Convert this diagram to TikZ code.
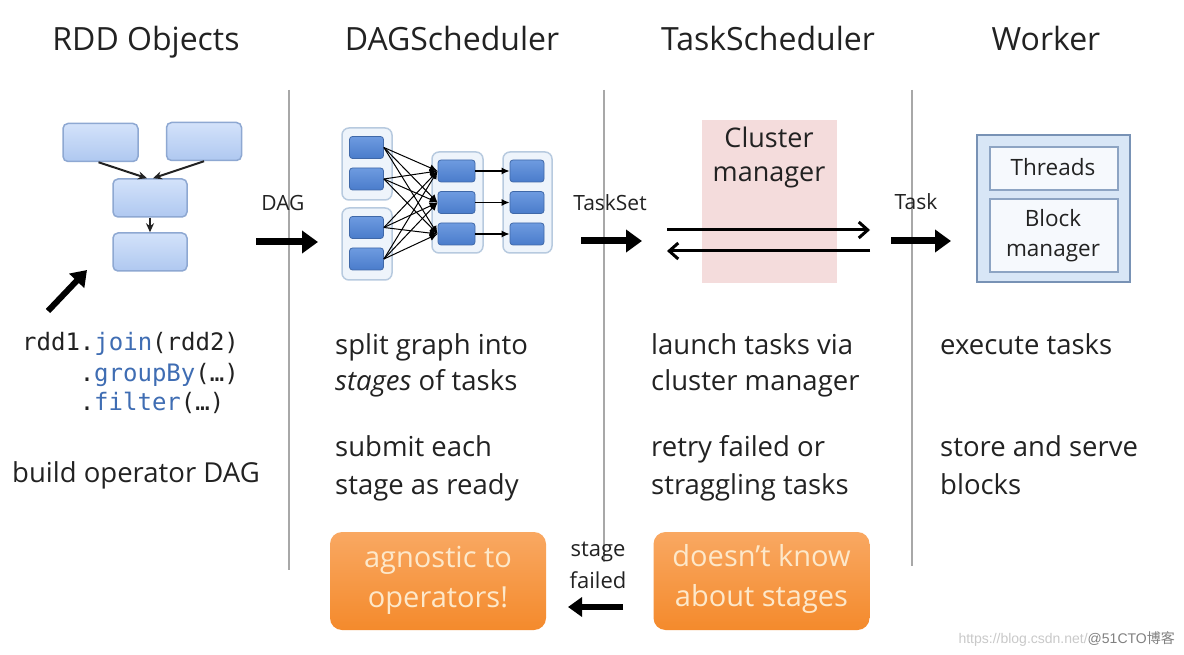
\documentclass[tikz,border=0pt]{standalone}
\usepackage{fontspec}
\setmainfont{Open Sans}
\setmonofont{DejaVu Sans Mono}
\newfontfamily\cjkfont{Noto Sans CJK SC}
\newfontfamily\wmfont{Liberation Sans}
\usetikzlibrary{arrows.meta,shadings}
\definecolor{txt}{HTML}{222222}
\definecolor{codeblue}{HTML}{3F6DB3}
\definecolor{sepgray}{HTML}{A8A8A8}
\definecolor{rddtop}{HTML}{D3E2FA}
\definecolor{rddbot}{HTML}{AFC8F0}
\definecolor{rddline}{HTML}{8EA8D2}
\definecolor{grpfill}{HTML}{EEF4FB}
\definecolor{grpline}{HTML}{B7CADF}
\definecolor{innertop}{HTML}{6E9BE0}
\definecolor{innerbot}{HTML}{4A7CCB}
\definecolor{innerline}{HTML}{3F68A8}
\definecolor{pink}{HTML}{F4DCDC}
\definecolor{wfill}{HTML}{D8E6F6}
\definecolor{wline}{HTML}{7892B5}
\definecolor{wifill}{HTML}{F6F9FD}
\definecolor{wiline}{HTML}{8DA4C3}
\definecolor{orangetop}{HTML}{F9A862}
\definecolor{orangebot}{HTML}{F48A2C}
\definecolor{orangetxt}{HTML}{FDE8CA}
\definecolor{wmgray}{HTML}{C9C9C9}
\tikzset{
  title/.style={anchor=base,text=txt,font=\fontsize{32}{36}\selectfont,inner sep=0pt},
  body/.style={anchor=base west,text=txt,font=\fontsize{27.5}{32}\selectfont,inner sep=0pt},
  lbl/.style={anchor=base,text=txt,font=\fontsize{21}{24}\selectfont,inner sep=0pt},
  code/.style={anchor=base west,text=txt,font=\fontsize{24}{28}\selectfont\ttfamily,inner sep=0pt},
  rddbox/.style={rectangle,rounded corners=5pt,draw=rddline,line width=1.5pt,top color=rddtop,bottom color=rddbot,minimum width=75pt,minimum height=38pt,inner sep=0pt},
  grpbox/.style={rectangle,rounded corners=7pt,draw=grpline,line width=1.5pt,fill=grpfill,inner sep=0pt},
  innerbox/.style={rectangle,rounded corners=3pt,draw=innerline,line width=0.8pt,top color=innertop,bottom color=innerbot,minimum width=34pt,minimum height=22pt,inner sep=0pt},
  sep/.style={draw=sepgray,line width=1.6pt},
  bigarrow/.style={line width=7pt,-{Triangle[length=16pt,width=22pt]}},
  thinarrow/.style={line width=2pt,draw=txt,-{Stealth[length=9pt,width=8pt]}},
  crossarrow/.style={line width=1pt,-{Latex[length=8pt,width=7pt]}},
  harrow/.style={line width=1.3pt,-{Latex[length=8pt,width=7pt]}},
  cmarrow/.style={line width=3pt,-{Straight Barb[length=9pt,width=16pt,line width=3pt]}},
  orangebox/.style={rectangle,rounded corners=12pt,top color=orangetop,bottom color=orangebot,minimum width=216pt,minimum height=98pt,inner sep=0pt},
  otxt/.style={anchor=base,text=orangetxt,font=\fontsize{29}{34}\selectfont,inner sep=0pt},
  wbox/.style={rectangle,draw=wline,line width=2.5pt,fill=wfill,inner sep=0pt},
  wibox/.style={rectangle,draw=wiline,line width=1.5pt,fill=wifill,inner sep=0pt},
  wtxt/.style={anchor=base,text=txt,font=\fontsize{22.5}{26}\selectfont,inner sep=0pt},
}
\begin{document}
\begin{tikzpicture}[x=1pt,y=-1pt]
\useasboundingbox (0,0) rectangle (1184,655);
\fill[white] (0,0) rectangle (1184,655);

% titles
\node[title] (t1) at (146,51) {RDD Objects};
\node[title] (t2) at (452,51) {DAGScheduler};
\node[title] (t3) at (768,51) {TaskScheduler};
\node[title] (t4) at (1046,51) {Worker};

% separators
\coordinate (s1a) at (289,90); \coordinate (s1b) at (289,570);
\coordinate (s2a) at (604,90); \coordinate (s2b) at (604,562);
\coordinate (s3a) at (912,90); \coordinate (s3b) at (912,566);
\draw[sep] (s1a) -- (s1b);
\draw[sep] (s2a) -- (s2b);
\draw[sep] (s3a) -- (s3b);

% RDD objects
\node[rddbox] (r1) at (100.5,142.5) {};
\node[rddbox] (r2) at (204,141.5) {};
\node[rddbox,minimum width=74pt] (r3) at (150,198) {};
\node[rddbox,minimum width=74pt] (r4) at (150,252) {};
\draw[thinarrow] ([xshift=-2pt]r1.south) -- ([xshift=-3pt]r3.north);
\draw[thinarrow] ([xshift=0pt]r2.south) -- ([xshift=3pt]r3.north);
\draw[thinarrow] (r3.south) -- (r4.north);
\coordinate (pa) at (48,311);
\coordinate (pb) at (87,270);
\draw[bigarrow,line width=6pt,-{Triangle[length=15pt,width=20pt]}] (pa) -- (pb);

\node[code] (c1) at (22,350) {rdd1.\textcolor{codeblue}{join}(rdd2)};
\node[code] (c2) at (79.6,381) {.\textcolor{codeblue}{groupBy}(…)};
\node[code] (c3) at (79.6,410) {.\textcolor{codeblue}{filter}(…)};
\node[body] (b1) at (12,482) {build operator DAG};

% DAG arrow
\node[lbl] (ldag) at (283,211) {DAG};
\coordinate (da) at (256,242); \coordinate (db) at (318,242);
\draw[bigarrow] (da) -- (db);

% DAG scheduler stages
\node[grpbox,minimum width=50pt,minimum height=72pt] (g1) at (367,164) {};
\node[grpbox,minimum width=50pt,minimum height=72pt] (g2) at (367,244) {};
\node[grpbox,minimum width=51pt,minimum height=101pt] (g3) at (457.5,202.5) {};
\node[grpbox,minimum width=49pt,minimum height=101pt] (g4) at (527.5,202.5) {};
\node[innerbox] (l1) at (366.5,147.5) {};
\node[innerbox] (l2) at (366.5,179) {};
\node[innerbox] (l3) at (366.5,227.5) {};
\node[innerbox] (l4) at (366.5,259) {};
\node[innerbox,minimum width=37pt] (m1) at (456.5,171) {};
\node[innerbox,minimum width=37pt] (m2) at (456.5,202.5) {};
\node[innerbox,minimum width=37pt] (m3) at (456.5,234) {};
\node[innerbox] (n1) at (527,171) {};
\node[innerbox] (n2) at (527,202.5) {};
\node[innerbox] (n3) at (527,234) {};
\foreach \a in {l1,l2,l3,l4}{
  \foreach \b in {m1,m2,m3}{
    \draw[crossarrow] (\a.east) -- (\b.west);
  }
}
\draw[harrow] (m1.east) -- (n1.west);
\draw[harrow] (m2.east) -- (n2.west);
\draw[harrow] (m3.east) -- (n3.west);

% TaskSet arrow
\node[lbl] (lts) at (610,211) {TaskSet};
\coordinate (ta) at (581,241); \coordinate (tb) at (642,241);
\draw[bigarrow] (ta) -- (tb);

% Cluster manager
\node[rectangle,fill=pink,minimum width=135pt,minimum height=163pt,inner sep=0pt] (cm) at (769.5,201.5) {};
\node[anchor=base,text=txt,font=\fontsize{27}{30}\selectfont,inner sep=0pt] (cm1) at (769,148) {Cluster};
\node[anchor=base,text=txt,font=\fontsize{27}{30}\selectfont,inner sep=0pt] (cm2) at (769,182) {manager};
\coordinate (ca) at (667,230); \coordinate (cb) at (870,230);
\coordinate (cc) at (870,251); \coordinate (cd) at (667,251);
\draw[cmarrow] (ca) -- (cb);
\draw[cmarrow] (cc) -- (cd);

% Task arrow
\node[lbl] (ltk) at (916,210) {Task};
\coordinate (ka) at (891,241); \coordinate (kb) at (951,241);
\draw[bigarrow] (ka) -- (kb);

% Worker
\node[wbox,minimum width=153pt,minimum height=147pt] (w) at (1053.5,208.5) {};
\node[wibox,minimum width=128pt,minimum height=43pt] (wt) at (1054,168.5) {};
\node[wibox,minimum width=128pt,minimum height=73pt] (wb) at (1054,235.5) {};
\node[wtxt] (wt1) at (1053,176) {Threads};
\node[wtxt] (wb1) at (1053,227) {Block};
\node[wtxt] (wb2) at (1053,257) {manager};

% body texts
\node[body] (d1) at (335,354) {split graph into};
\node[body] (d2) at (335,390) {\itshape stages\upshape{} of tasks};
\node[body] (d3) at (335,456) {submit each};
\node[body] (d4) at (335,494) {stage as ready};
\node[body] (e1) at (651,354) {launch tasks via};
\node[body] (e2) at (651,390) {cluster manager};
\node[body] (e3) at (651,456) {retry failed or};
\node[body] (e4) at (651,494) {straggling tasks};
\node[body] (f1) at (940,354) {execute tasks};
\node[body] (f2) at (940,456) {store and serve};
\node[body] (f3) at (940,494) {blocks};

% orange boxes
\node[orangebox] (o1) at (438,581) {};
\node[orangebox] (o2) at (761.5,581) {};
\node[otxt] (o1a) at (438,567) {agnostic to};
\node[otxt] (o1b) at (438,607) {operators!};
\node[otxt] (o2a) at (761.5,566) {doesn’t know};
\node[otxt] (o2b) at (761.5,606) {about stages};

% stage failed
\node[lbl,font=\fontsize{22}{24}\selectfont] (sf1) at (598,556) {stage};
\node[lbl,font=\fontsize{22}{24}\selectfont] (sf2) at (598,588) {failed};
\coordinate (fa) at (623,607); \coordinate (fb) at (568,607);
\draw[bigarrow,line width=6pt,-{Triangle[length=14pt,width=19pt]}] (fa) -- (fb);

% watermark
\node[anchor=base east,inner sep=0pt,font=\wmfont\fontsize{14}{16}\selectfont,text=wmgray] (wm) at (1175,643) {https://blog.csdn.net/\textcolor{gray}{@51CTO{\cjkfont 博客}}};
\end{tikzpicture}
\end{document}
